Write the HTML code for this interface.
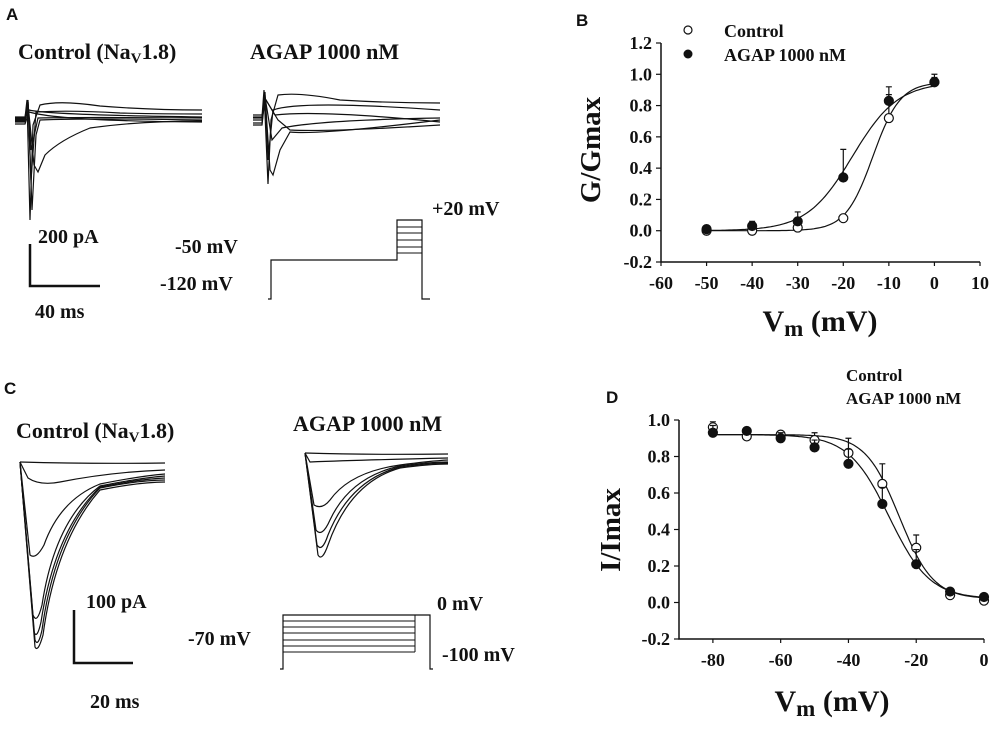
<!DOCTYPE html>
<html><head><meta charset="utf-8"><style>
body{margin:0;background:#fff}
svg{display:block}
.t{font-family:"Liberation Serif",serif;font-weight:bold;fill:#111}
.p{font-family:"Liberation Sans",sans-serif;font-weight:bold;fill:#111}
.tr{fill:none;stroke:#111;stroke-width:1.2}
</style></head><body>
<svg id="fig" width="1000" height="729" viewBox="0 0 1000 729">
<!-- Panel A -->
<text class="p" x="6" y="20" font-size="17">A</text>
<text class="t" x="18" y="59" font-size="22">Control (Na<tspan font-size="15" dy="4">V</tspan><tspan dy="-4">1.8)</tspan></text>
<text class="t" x="250" y="59" font-size="22">AGAP 1000 nM</text>
<g class="tr">
<path d="M15,118 H25 L27,100 L30,220 L33,125 L40,105 Q60,100 100,106 Q150,110 202,110"/>
<path d="M15,120 H25 L28,100 L31,180 L36,112 Q70,110 120,113 Q160,114 202,114"/>
<path d="M15,122 H25 L28,102 L31,150 L38,118 Q80,117 202,118"/>
<path d="M15,117 H25 L28,102 L32,210 L36,135 L40,120 Q90,118 202,120"/>
<path d="M15,121 H25 L28,104 L34,165 L38,172 L45,155 Q60,140 90,128 Q140,121 202,121"/>
<path d="M15,119 H25 L29,110 Q50,115 202,117"/>
<path d="M15,124 H25 L29,112 Q60,121 202,122"/>
</g>
<g class="tr">
<path d="M253,117 H262 L264,90 L268,184 L271,120 L278,95 Q300,92 340,100 Q390,103 440,103"/>
<path d="M253,120 H262 L265,92 L268,160 L273,110 Q300,100 440,110"/>
<path d="M253,123 H262 L265,95 L270,170 L273,175 L280,150 L290,132 Q320,135 440,120"/>
<path d="M253,125 H262 L265,97 L272,140 L282,128 Q320,120 440,118"/>
<path d="M253,118 H262 L266,100 L275,115 Q320,110 440,122"/>
<path d="M253,115 H262 L266,100 L278,120 L290,130 Q330,132 440,125"/>
</g>
<g>
<path d="M30,244 V286 H100" fill="none" stroke="#111" stroke-width="2.5"/>
<text class="t" x="38" y="243" font-size="20">200 pA</text>
<text class="t" x="35" y="318" font-size="20">40 ms</text>
</g>
<g>
<path d="M268,299 H271 V260 H397 V220 H422 V299 H430" fill="none" stroke="#111" stroke-width="1.2"/>
<path d="M397,227 H422 M397,233 H422 M397,240 H422 M397,247 H422 M397,253 H422" stroke="#111" stroke-width="1"/>
<text class="t" x="175" y="253" font-size="20">-50 mV</text>
<text class="t" x="160" y="290" font-size="20">-120 mV</text>
<text class="t" x="432" y="215" font-size="20">+20 mV</text>
</g>
<!-- Panel C -->
<text class="p" x="4" y="394" font-size="17">C</text>
<text class="t" x="16" y="438" font-size="22">Control (Na<tspan font-size="15" dy="4">V</tspan><tspan dy="-4">1.8)</tspan></text>
<text class="t" x="293" y="431" font-size="22">AGAP 1000 nM</text>
<g class="tr">
<path d="M20,462 Q90,464 165,463"/>
<path d="M20,462 L28,478 Q40,486 60,482 Q110,472 165,470"/>
<path d="M20,462 L30,555 Q36,560 44,545 Q60,500 100,484 Q140,476 165,474"/>
<path d="M20,462 L33,615 Q37,625 42,605 Q55,520 100,486 Q140,478 165,476"/>
<path d="M20,462 L34,632 Q37,640 41,622 Q55,530 100,487 Q140,479 165,478"/>
<path d="M20,462 L35,640 Q38,648 42,630 Q55,535 100,488 Q140,480 165,480"/>
<path d="M20,462 L35,647 Q38,653 43,635 Q56,540 100,490 Q140,482 165,482"/>
</g>
<g class="tr">
<path d="M305,453 Q370,455 448,454"/>
<path d="M305,453 L310,462 Q360,460 448,458"/>
<path d="M305,453 L314,505 Q322,510 330,500 Q350,472 400,465 Q430,461 448,460"/>
<path d="M305,453 L316,530 Q322,538 330,520 Q350,477 400,466 Q430,462 448,462"/>
<path d="M305,453 L317,545 Q322,553 328,535 Q350,480 400,467 Q430,463 448,463"/>
<path d="M305,453 L318,555 Q322,562 328,545 Q350,482 400,468 Q430,464 448,464"/>
</g>
<g>
<path d="M74,610 V663 H133" fill="none" stroke="#111" stroke-width="2.5"/>
<text class="t" x="86" y="608" font-size="20">100 pA</text>
<text class="t" x="90" y="708" font-size="20">20 ms</text>
</g>
<g>
<path d="M280,669 H283 V615 H430 V669 H433" fill="none" stroke="#111" stroke-width="1.2"/>
<path d="M283,621 H415 M283,627 H415 M283,633 H415 M283,640 H415 M283,646 H415 M283,652 H415 M415,615 V652" stroke="#111" stroke-width="1"/>
<text class="t" x="437" y="610" font-size="20">0 mV</text>
<text class="t" x="188" y="645" font-size="20">-70 mV</text>
<text class="t" x="442" y="661" font-size="20">-100 mV</text>
</g>
<text class="p" x="576" y="26" font-size="17">B</text>
<text class="p" x="606" y="403" font-size="17">D</text>
<g id="chartB"></g>
<g id="chartD"></g>
</svg>
<script>
// Panel B data
const bVolts = [-50, -40, -30, -20, -10, 0];
const bControl = [0.0, 0.0, 0.02, 0.08, 0.72, 0.95];
const bControlErr = [0.0, 0.0, 0.01, 0.02, 0.15, 0.03];
const bAgap = [0.01, 0.03, 0.06, 0.34, 0.83, 0.95];
const bAgapErr = [0.01, 0.03, 0.06, 0.18, 0.09, 0.05];
const bFitControl = [0.95, -13.5, 3];
const bFitAgap = [0.95, -18, 5];
const bXTicks = [-60, -50, -40, -30, -20, -10, 0, 10];
const bYTicks = [-0.2, 0.0, 0.2, 0.4, 0.6, 0.8, 1.0, 1.2];
// Panel D data
const dVolts = [-80, -70, -60, -50, -40, -30, -20, -10, 0];
const dControl = [0.96, 0.91, 0.92, 0.89, 0.82, 0.65, 0.30, 0.04, 0.01];
const dControlErr = [0.03, 0.0, 0.0, 0.04, 0.08, 0.11, 0.07, 0.0, 0.0];
const dAgap = [0.93, 0.94, 0.90, 0.85, 0.76, 0.54, 0.21, 0.06, 0.03];
const dAgapErr = [0.04, 0.0, 0.03, 0.04, 0.08, 0.09, 0.08, 0.0, 0.0];
const dFitControl = [0.92, 0.02, -25, 5];
const dFitAgap = [0.92, 0.02, -28, 6];
const dXTicks = [-80, -60, -40, -20, 0];
const dYTicks = [-0.2, 0.0, 0.2, 0.4, 0.6, 0.8, 1.0];

const NS = 'http://www.w3.org/2000/svg';
function mk(parent, tag, attrs, text) {
  const e = document.createElementNS(NS, tag);
  for (const k in attrs) e.setAttribute(k, attrs[k]);
  if (text !== undefined) e.textContent = text;
  parent.appendChild(e);
  return e;
}
function lin(d0, d1, r0, r1) { return v => r0 + (v - d0) * (r1 - r0) / (d1 - d0); }

function drawChart(g, cfg) {
  const x = lin(cfg.xmin, cfg.xmax, cfg.L, cfg.R);
  const y = lin(cfg.ymin, cfg.ymax, cfg.B, cfg.T);
  const ax = mk(g, 'path', {d: `M${cfg.L},${cfg.T} V${cfg.B} H${cfg.R}`, fill: 'none', stroke: '#111', 'stroke-width': 1.5});
  
  
  cfg.yTicks.forEach(v => {
    mk(g, 'line', {x1: cfg.L - 5, x2: cfg.L, y1: y(v), y2: y(v), stroke: '#111', 'stroke-width': 1.2});
    const t = mk(g, 'text', {class: 't', x: cfg.L - 9, y: y(v) + 6, 'text-anchor': 'end', 'font-size': 18}, v.toFixed(1));
    
    
  });
  cfg.xTicks.forEach(v => {
    mk(g, 'line', {x1: x(v), x2: x(v), y1: cfg.B, y2: cfg.B + 4, stroke: '#111', 'stroke-width': 1.2});
    const t = mk(g, 'text', {class: 't', x: x(v), y: cfg.B + 27, 'text-anchor': 'middle', 'font-size': 18}, String(v));
    
    
  });
  cfg.fits.forEach(f => {
    let d = '';
    for (let v = cfg.fitMin; v <= cfg.fitMax + 1e-9; v += 0.5) d += (d ? 'L' : 'M') + x(v).toFixed(1) + ',' + y(f(v)).toFixed(1);
    const p = mk(g, 'path', {d, fill: 'none', stroke: '#111', 'stroke-width': 1.2});
    
    
  });
  cfg.series.forEach(s => {
    s.vals.forEach((v, i) => {
      const cx = x(cfg.volts[i]), cy = y(v);
      if (s.err[i] > 0) {
        const ey = y(v + s.err[i]);
        mk(g, 'path', {d: `M${cx},${cy} V${ey} M${cx - 3},${ey} H${cx + 3}`, stroke: '#111', 'stroke-width': 1.2, fill: 'none'});
      }
      const c = mk(g, 'circle', {cx, cy, r: 4.5, fill: s.fill, stroke: '#111', 'stroke-width': 1.2});
      
      
    });
  });
}
const gB = document.getElementById('chartB');
drawChart(gB, {L: 661, R: 980, T: 43, B: 262, xmin: -60, xmax: 10, ymin: -0.2, ymax: 1.2,
  xTicks: bXTicks, yTicks: bYTicks, volts: bVolts, fitMin: -50, fitMax: 0,
  fits: [v => bFitControl[0] / (1 + Math.exp((bFitControl[1] - v) / bFitControl[2])),
         v => bFitAgap[0] / (1 + Math.exp((bFitAgap[1] - v) / bFitAgap[2]))],
  series: [{vals: bControl, err: bControlErr, fill: '#fff', name: 'control'},
           {vals: bAgap, err: bAgapErr, fill: '#111', name: 'agap'}]});
const gD = document.getElementById('chartD');
drawChart(gD, {L: 679, R: 984, T: 420, B: 639, xmin: -90, xmax: 0, ymin: -0.2, ymax: 1.0,
  xTicks: dXTicks, yTicks: dYTicks, volts: dVolts, fitMin: -80, fitMax: 0,
  fits: [v => dFitControl[1] + (dFitControl[0] - dFitControl[1]) / (1 + Math.exp((v - dFitControl[2]) / dFitControl[3])),
         v => dFitAgap[1] + (dFitAgap[0] - dFitAgap[1]) / (1 + Math.exp((v - dFitAgap[2]) / dFitAgap[3]))],
  series: [{vals: dControl, err: dControlErr, fill: '#fff', name: 'control'},
           {vals: dAgap, err: dAgapErr, fill: '#111', name: 'agap'}]});
</script>
<script>
(function(){
  const svg = document.getElementById('fig');
  const NS='http://www.w3.org/2000/svg';
  const frag = `
  <g>
    <circle cx="688" cy="30" r="4" fill="#fff" stroke="#111" stroke-width="1.2"/>
    <text class="t" x="724" y="37" font-size="18">Control</text>
    <circle cx="688" cy="54" r="4.5" fill="#111"/>
    <text class="t" x="724" y="61" font-size="18">AGAP 1000 nM</text>
  </g>
  <g>
    <text class="t" x="846" y="381" font-size="17">Control</text>
    <text class="t" x="846" y="404" font-size="17">AGAP 1000 nM</text>
  </g>
  <text class="t" transform="translate(600,150) rotate(-90)" text-anchor="middle" font-size="29">G/Gmax</text>
  <text class="t" x="820" y="331" text-anchor="middle" font-size="30">V<tspan font-size="23" dy="5">m</tspan><tspan dy="-5"> (mV)</tspan></text>
  <text class="t" transform="translate(620,530) rotate(-90)" text-anchor="middle" font-size="29">I/Imax</text>
  <text class="t" x="832" y="711" text-anchor="middle" font-size="30">V<tspan font-size="23" dy="5">m</tspan><tspan dy="-5"> (mV)</tspan></text>`;
  const tmp = document.createElementNS(NS,'g');
  tmp.innerHTML = frag;
  while (tmp.firstChild) svg.appendChild(tmp.firstChild);
})();
</script>
</body></html>
